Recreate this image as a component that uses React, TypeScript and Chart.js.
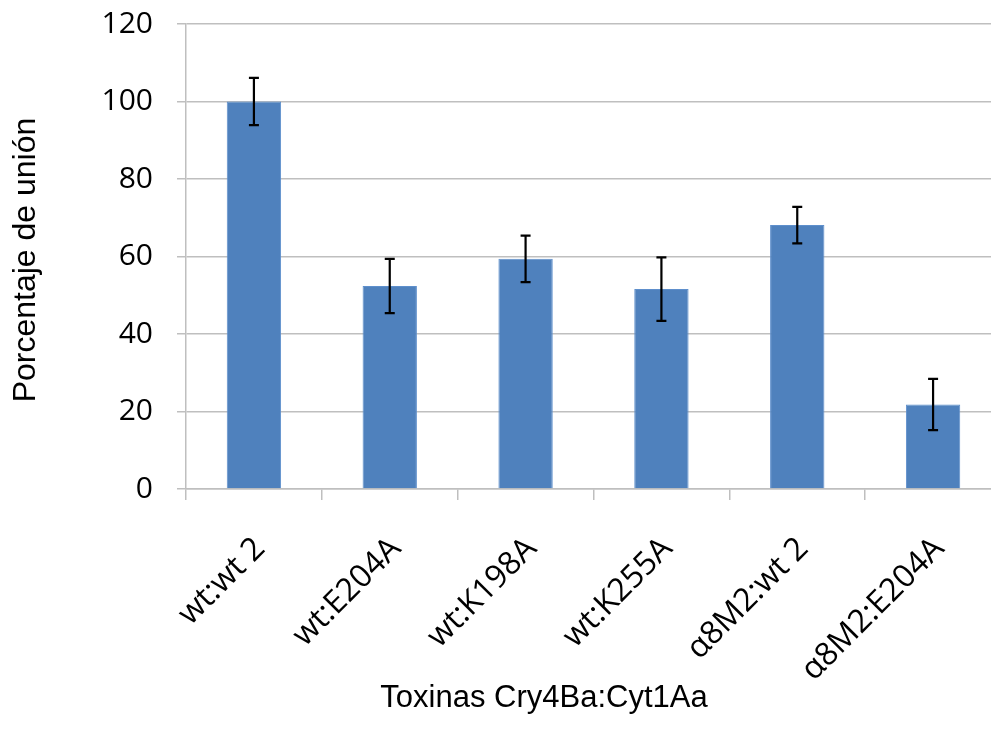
import React, { useEffect, useRef } from "react";
import { Chart, registerables } from "chart.js";

Chart.register(...registerables);

const categories = ["wt:wt 2", "wt:E204A", "wt:K198A", "wt:K255A", "α8M2:wt 2", "α8M2:E204A"];
const values = [100, 52.4, 59.4, 51.6, 68.1, 21.8];
const errors = [6.1, 7.0, 6.0, 8.2, 4.7, 6.6];
const yMin = 0;
const yMax = 120;
const yStep = 20;
const xTitle = "Toxinas Cry4Ba:Cyt1Aa";
const yTitle = "Porcentaje de unión";

const errorBarPlugin = {
  id: "errorBars",
  afterDatasetsDraw(chart: any) {
    const ctx = chart.ctx;
    const meta = chart.getDatasetMeta(0);
    const yScale = chart.scales.y;
    ctx.save();
    ctx.strokeStyle = "#000000";
    ctx.lineWidth = 2.2;
    meta.data.forEach((bar: any, i: number) => {
      const x = bar.x;
      const yTop = yScale.getPixelForValue(values[i] + errors[i]);
      const yBot = yScale.getPixelForValue(values[i] - errors[i]);
      const cap = 5;
      ctx.beginPath();
      ctx.moveTo(x, yTop);
      ctx.lineTo(x, yBot);
      ctx.moveTo(x - cap, yTop);
      ctx.lineTo(x + cap, yTop);
      ctx.moveTo(x - cap, yBot);
      ctx.lineTo(x + cap, yBot);
      ctx.stroke();
    });
    ctx.restore();
  },
};

const titlesPlugin = {
  id: "axisTitles",
  afterDraw(chart: any) {
    const ctx = chart.ctx;
    ctx.save();
    ctx.fillStyle = "#000000";
    ctx.font = "31px 'Liberation Sans', Arial, sans-serif";
    ctx.textAlign = "center";
    ctx.textBaseline = "alphabetic";
    ctx.fillText(xTitle, 544, 707);
    ctx.translate(35, 260);
    ctx.rotate(-Math.PI / 2);
    ctx.font = "32px 'Liberation Sans', Arial, sans-serif";
    ctx.fillText(yTitle, 0, 0);
    ctx.restore();
  },
};

export default function App() {
  const ref = useRef<HTMLCanvasElement | null>(null);

  useEffect(() => {
    if (!ref.current) return;
    const chart = new Chart(ref.current, {
      type: "bar",
      data: {
        labels: categories,
        datasets: [
          {
            data: values,
            backgroundColor: "#4f81bd",
            borderColor: "#5e8fcc",
            borderWidth: 1,
            barPercentage: 0.4,
            categoryPercentage: 1,
          },
        ],
      },
      options: {
        responsive: false,
        animation: false,
        layout: { padding: { top: 24, left: 0, right: 9, bottom: 0 } },
        plugins: {
          legend: { display: false },
          tooltip: { enabled: false },
          title: { display: false },
        },
        scales: {
          x: {
            grid: {
              drawOnChartArea: false,
              tickLength: 11,
              color: "#bfbfbf",
              lineWidth: 1.5,
              offset: true,
            },
            border: { display: true, color: "#bfbfbf", width: 1.5 },
            ticks: {
              minRotation: 45,
              maxRotation: 45,
              autoSkip: false,
              labelOffset: 6,
              padding: 30,
              color: "#000000",
              font: { family: "'Open Sans', sans-serif", size: 32 },
            },
            afterFit(scale: any) {
              scale.height = 242;
            },
          },
          y: {
            min: yMin,
            max: yMax,
            ticks: {
              stepSize: yStep,
              padding: 24,
              color: "#000000",
              font: { family: "'Open Sans', sans-serif", size: 30 },
            },
            grid: { color: "#bfbfbf", lineWidth: 1.5, tickLength: 9 },
            border: { display: true, color: "#bfbfbf", width: 1.5 },
            afterFit(scale: any) {
              scale.width = 186;
              scale.paddingTop = 0;
              scale.paddingBottom = 0;
            },
          },
        },
      },
      plugins: [errorBarPlugin, titlesPlugin],
    });
    return () => chart.destroy();
  }, []);

  return (
    <div
      style={{
        position: "fixed",
        left: 0,
        top: 0,
        width: 991,
        height: 731,
        overflow: "hidden",
        background: "#ffffff",
      }}
    >
      <canvas ref={ref} width={1010} height={731} style={{ width: 1010, height: 731, display: "block" }} />
    </div>
  );
}
